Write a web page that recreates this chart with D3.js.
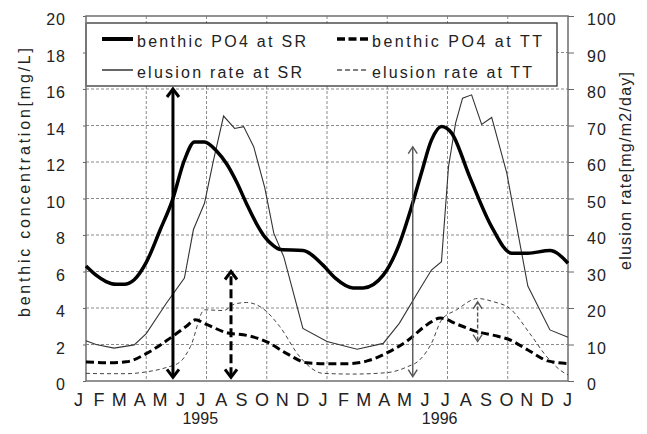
<!DOCTYPE html>
<meta charset="utf-8">
<style>
	body { margin: 0; background: #fff; }
	text { font-family: "Liberation Sans", Arial, sans-serif; fill: #222; }
	.grid line { stroke: #8a8a8a; stroke-width: 1; stroke-dasharray: 3,2; }
	.axis .domain { display: none; }
	.axis line { stroke: #666; }
	.axis text { font-size: 16px; letter-spacing: 1px; }
	.frame { fill: none; stroke: #777; stroke-width: 1.6px; }
	.legend rect { fill: #fff; stroke: #333; stroke-width: 1.3px; }
	.legend text { font-size: 16px; }
</style>
<body>
<div id="chart"></div>
<script src="https://d3js.org/d3.v7.min.js"></script>
<script>
	// month labels under the axis
	var months = ["J","F","M","A","M","J","J","A","S","O","N","D","J","F","M","A","M","J","J","A","S","O","N","D","J"];
	var years = ["1995", "1996"];
	var yearAt = [6, 17.75];

	// benthic PO4 at SR [mg/L], month from Jan 1995
	var benthicSR_t = [0, 0.5, 1.0, 1.5, 1.9, 2.4, 3.0, 3.7, 4.3, 4.9, 5.4, 5.9, 6.5, 7.0, 7.5, 8.0, 8.5, 8.9, 9.3, 9.7, 10.8, 11.8, 12.4, 13.3, 13.8, 14.8, 15.6, 16.2, 16.7, 17.2, 17.7, 18.2, 19.1, 20.2, 21.2, 22.0, 23.1, 24];
	var benthicSR = [6.3, 5.8, 5.45, 5.3, 5.3, 5.55, 6.5, 8.3, 9.9, 12.1, 13.1, 13.1, 12.6, 11.9, 10.9, 9.7, 8.6, 7.9, 7.45, 7.2, 7.15, 6.35, 5.65, 5.1, 5.1, 5.8, 7.5, 9.5, 11.4, 13.2, 13.95, 13.6, 11.2, 8.45, 7.0, 7.0, 7.15, 6.45];

	// benthic PO4 at TT [mg/L]
	var benthicTT_t = [0, 1, 2, 3, 4, 5, 5.45, 6, 7, 8, 9, 10, 11, 12, 13, 14, 15, 16, 17, 17.65, 18.5, 19.5, 20.5, 21, 22, 23, 24];
	var benthicTT = [1.05, 1.0, 1.05, 1.5, 2.2, 3.0, 3.35, 3.1, 2.65, 2.5, 2.15, 1.5, 1.0, 0.95, 0.95, 1.1, 1.55, 2.2, 3.1, 3.45, 3.1, 2.7, 2.45, 2.3, 1.7, 1.1, 0.95];

	// elusion rate at SR [mg/m2/day]
	var elusionSR_t = [0, 0.5, 1.4, 2.4, 3.0, 4.0, 4.9, 5.35, 5.9, 6.35, 6.85, 7.4, 7.85, 8.35, 8.9, 9.35, 9.85, 10.8, 12.0, 13.5, 14.8, 15.6, 16.6, 17.2, 17.7, 18.05, 18.4, 18.75, 19.2, 19.7, 20.2, 20.95, 22.0, 23.1, 24];
	var elusionSR = [11, 10, 9.0, 9.9, 13, 21.3, 28.2, 41.5, 48.7, 60.5, 72.6, 69.2, 69.7, 64.2, 53, 40.5, 34, 14.4, 10.8, 8.7, 10.3, 15.8, 25, 30.4, 32.7, 58.7, 70.6, 77.5, 78.4, 70.3, 72.2, 57, 26, 14, 12];

	// elusion rate at TT [mg/m2/day]
	var elusionTT_t = [0, 1, 2, 3, 4, 4.7, 5.2, 5.9, 6.85, 7.4, 8.0, 8.8, 9.65, 10.65, 11.8, 13.3, 15.0, 16.0, 16.6, 17.2, 17.7, 18.45, 19.5, 20.3, 21.1, 22.1, 22.95, 23.85, 24];
	var elusionTT = [2.1, 2.0, 2.0, 2.5, 3.7, 5.3, 9.4, 19.5, 19.3, 21.1, 21.5, 19.9, 14.9, 6.6, 2.1, 1.9, 2.3, 3.9, 5.7, 10.3, 16.7, 19.5, 22.6, 21.7, 19.9, 13, 6.6, 2.1, 1.7];

	// annotation arrows: month, from, to, which axis
	var arrowMonth = [4.33, 7.22, 16.27, 19.5];
	var arrowFrom = [0.2, 0.2, 1.2, 10.8];
	var arrowTo = [16, 6, 64.2, 21.7];
	var arrowAxis = ["left", "left", "right", "right"];

	var legendNames = ["benthic PO4 at SR", "benthic PO4 at TT", "elusion rate at SR", "elusion rate at TT"];

	var width = 647, height = 434;
	var plotL = 86, plotR = 568, plotT = 16, plotB = 381;

	var x = d3.scaleLinear().domain([0, 24]).range([plotL, plotR]);
	var yL = d3.scaleLinear().domain([0, 20]).range([plotB, plotT]);
	var yR = d3.scaleLinear().domain([0, 100]).range([plotB, plotT]);
	var xLab = d3.scalePoint().domain(d3.range(months.length)).range([78, 567]);
	var xYear = d3.scaleLinear().domain([0, 24]).range([78, 567]);

	var svg = d3.select("#chart").append("svg")
			.attr("width", width)
			.attr("height", height);

	// grid
	var grid = svg.append("g").attr("class", "grid");
	grid.selectAll(".h").data(d3.range(2, 20, 2)).enter().append("line")
			.attr("x1", plotL).attr("x2", plotR)
			.attr("y1", function (d) { return yL(d); })
			.attr("y2", function (d) { return yL(d); });
	grid.selectAll(".v").data(d3.range(3, 24, 3)).enter().append("line")
			.attr("y1", plotT).attr("y2", plotB)
			.attr("x1", function (d) { return x(d); })
			.attr("x2", function (d) { return x(d); });

	// legend box sits over the grid
	var legend = svg.append("g").attr("class", "legend");
	legend.append("rect").attr("x", plotL).attr("y", 23).attr("width", 471).attr("height", 63);

	svg.append("rect").attr("class", "frame")
			.attr("x", plotL).attr("y", plotT)
			.attr("width", plotR - plotL).attr("height", plotB - plotT);

	// axes
	svg.append("g").attr("class", "axis")
			.attr("transform", "translate(" + plotL + ",0)")
			.call(d3.axisLeft(yL).ticks(10).tickSize(3).tickPadding(17))
			.selectAll("text").attr("dy", "0.55em");
	svg.append("g").attr("class", "axis")
			.attr("transform", "translate(" + plotR + ",0)")
			.call(d3.axisRight(yR).ticks(10).tickSize(6).tickPadding(13))
			.selectAll("text").attr("dy", "0.55em");

	var mAxis = svg.append("g").attr("class", "axis months")
			.attr("transform", "translate(0," + plotB + ")")
			.call(d3.axisBottom(xLab).tickSize(0).tickPadding(12).tickFormat(function (i) { return months[i]; }));
	mAxis.selectAll("text").attr("dy", "0.71em").style("letter-spacing", "0px").style("font-size", "18px");

	svg.selectAll(".year").data(years).enter().append("text")
			.attr("class", "year")
			.attr("x", function (d, i) { return xYear(yearAt[i]); })
			.attr("y", 424)
			.attr("text-anchor", "middle")
			.style("font-size", "16px")
			.text(function (d) { return d; });

	// axis titles
	svg.append("text")
			.attr("transform", "translate(30,182.5) rotate(-90)")
			.attr("text-anchor", "middle")
			.attr("textLength", 269).attr("lengthAdjust", "spacing")
			.style("font-size", "16px")
			.text("benthic concentration[mg/L]");
	svg.append("text")
			.attr("transform", "translate(631,171) rotate(-90)")
			.attr("text-anchor", "middle")
			.attr("textLength", 198).attr("lengthAdjust", "spacing")
			.style("font-size", "16px")
			.text("elusion rate[mg/m2/day]");

	// lines
	function series(t, v, y, curve) {
		return d3.line()
				.x(function (d, i) { return x(t[i]); })
				.y(function (d) { return y(d); })
				.curve(curve)(v);
	}
	var styles = [
		{w: 3.5, c: "#000", dash: null},
		{w: 3, c: "#000", dash: "8,4"},
		{w: 1.1, c: "#333", dash: null},
		{w: 1, c: "#444", dash: "4,3"}
	];
	svg.append("path").attr("d", series(elusionTT_t, elusionTT, yR, d3.curveMonotoneX))
			.attr("fill", "none").attr("stroke", styles[3].c).attr("stroke-width", styles[3].w).attr("stroke-dasharray", styles[3].dash);
	svg.append("path").attr("d", series(elusionSR_t, elusionSR, yR, d3.curveLinear))
			.attr("fill", "none").attr("stroke", styles[2].c).attr("stroke-width", styles[2].w);
	svg.append("path").attr("d", series(benthicTT_t, benthicTT, yL, d3.curveMonotoneX))
			.attr("fill", "none").attr("stroke", styles[1].c).attr("stroke-width", styles[1].w).attr("stroke-dasharray", styles[1].dash);
	svg.append("path").attr("d", series(benthicSR_t, benthicSR, yL, d3.curveMonotoneX))
			.attr("fill", "none").attr("stroke", styles[0].c).attr("stroke-width", styles[0].w)
			.attr("stroke-linejoin", "round");

	// arrows
	var arrowStyle = [
		{w: 3, c: "#000", dash: null, hw: 6, hh: 8},
		{w: 3, c: "#000", dash: "9,4", hw: 6, hh: 8},
		{w: 1.4, c: "#555", dash: null, hw: 4.5, hh: 7},
		{w: 1.4, c: "#555", dash: "4,2", hw: 4.5, hh: 7}
	];
	arrowMonth.forEach(function (m, i) {
		var y = arrowAxis[i] === "left" ? yL : yR;
		var st = arrowStyle[i];
		var ax = x(m), y1 = y(arrowFrom[i]), y2 = y(arrowTo[i]);
		svg.append("line")
				.attr("x1", ax).attr("x2", ax).attr("y1", y1 - 1).attr("y2", y2 + 1)
				.attr("stroke", st.c).attr("stroke-width", st.w).attr("stroke-dasharray", st.dash);
		svg.append("path")
				.attr("d", "M" + (ax - st.hw) + "," + (y2 + st.hh) + "L" + ax + "," + y2 + "L" + (ax + st.hw) + "," + (y2 + st.hh)
						+ "M" + (ax - st.hw) + "," + (y1 - st.hh) + "L" + ax + "," + y1 + "L" + (ax + st.hw) + "," + (y1 - st.hh))
				.attr("fill", "none").attr("stroke", st.c).attr("stroke-width", st.w);
	});

	// legend entries: order SR benthic, TT benthic, SR elusion, TT elusion
	var legX = [102, 337, 102, 337];
	var legY = [39, 39, 70, 70];
	var legLen = [169, 170, 165, 160];
	var legDash = [null, "8,3.5", null, "5,3"];
	var legW = [4, 3.5, 1.2, 1.1];
	legendNames.forEach(function (name, i) {
		legend.append("line")
				.attr("x1", legX[i]).attr("x2", legX[i] + 31)
				.attr("y1", legY[i]).attr("y2", legY[i])
				.attr("stroke", "#000").attr("stroke-width", legW[i])
				.attr("stroke-dasharray", legDash[i]);
		legend.append("text")
				.attr("x", legX[i] + 35).attr("y", legY[i] + 7.5)
				.attr("textLength", legLen[i]).attr("lengthAdjust", "spacing")
				.text(name);
	});
</script>
</body>
